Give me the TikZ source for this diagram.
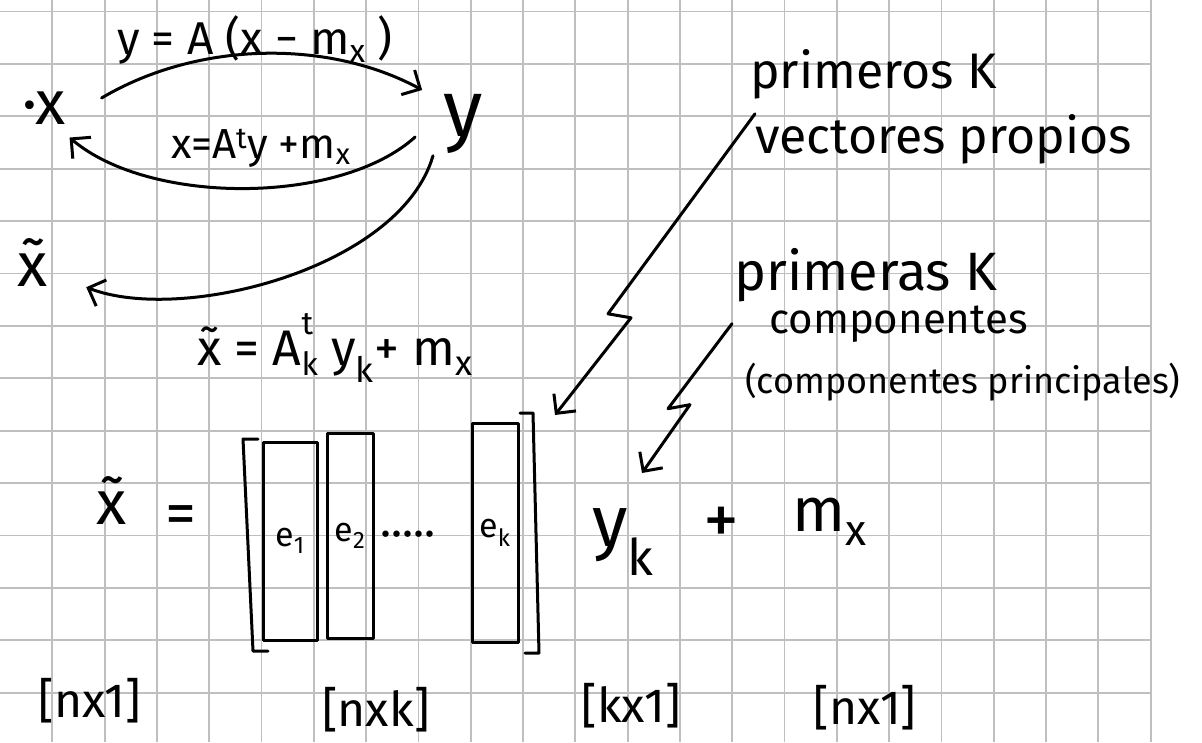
\documentclass[tikz,border=0pt]{standalone}
\usepackage{fontspec}
\setmainfont{Fira Sans}
\usetikzlibrary{arrows.meta}

\begin{document}
\begin{tikzpicture}[x=1pt, y=-1pt,
  ink/.style={line width=3pt, line cap=round, line join=round},
  tip/.style={ink, -{Straight Barb[length=14pt, width=28pt]}},
  gridline/.style={draw=black!25, line width=1.8pt},
  big/.style={inner sep=0pt, font=\fontsize{62}{70}\selectfont},
  form/.style={inner sep=0pt, font=\fontsize{46}{54}\selectfont},
  note/.style={inner sep=0pt, anchor=base west, font=\fontsize{50}{58}\selectfont},
  dims/.style={inner sep=0pt, font=\fontsize{48}{56}\selectfont},
  colbox/.style={draw, ink, inner sep=0pt, minimum width=46pt, minimum height=205pt, font=\fontsize{34}{40}\selectfont}
]
\fill[white] (0,0) rectangle (1202,742);
\useasboundingbox (0,0) rectangle (1202,742);
\foreach \i in {1,...,22} \draw[gridline] (52.3*\i,0) -- (52.3*\i,742);
\foreach \j in {0,...,13} \draw[gridline] (0,11.5+52.4*\j) -- (1152,11.5+52.4*\j);

\node[big] (x) at (44,108) {·x};
\node[big, font=\fontsize{80}{88}\selectfont] (y) at (463,124) {y};
\node[big] (xt) at (33,263) {\~{x}};

\node[form] (fwd) at (255,40) {y = A (x − m\textsubscript{x} )};
\node[form, font=\fontsize{42}{50}\selectfont] (inv) at (261,148) {x=A\textsuperscript{t}y +m\textsubscript{x}};
\node[form, font=\fontsize{50}{58}\selectfont] (rec) at (335,348) {\~{x} = A\rlap{\raisebox{0.62em}{\fontsize{32}{32}\selectfont t}}\raisebox{-0.2em}{\fontsize{32}{32}\selectfont k} y\textsubscript{k}+ m\textsubscript{x}};

\draw[tip] ([shift={(36,-10)}]x.east) .. controls +(98,-58) and +(-92,-50) .. ([shift={(-21,-34)}]y.west);
\draw[tip] ([shift={(-28,13)}]y.west) .. controls +(-75,68) and +(80,68) .. ([shift={(4,13)}]x.south east);
\draw[tip] ([shift={(-30,2)}]y.south) .. controls +(-33,113) and +(95,37) .. ([shift={(38,0)}]xt.south east);

\node[note] (n1a) at (750,88) {primeros K};
\node[note] (n1b) at (755,153) {vectores propios};
\node[note, font=\fontsize{54}{62}\selectfont] (n2a) at (734,290) {primeras K};
\node[note, font=\fontsize{42}{50}\selectfont] (n2b) at (769,333) {componentes};
\node[note, font=\fontsize{36}{44}\selectfont] (n2c) at (745,393) {(componentes principales)};

\node[big] (xt2) at (112,500) {\~{x}};
\node[big] (eq) at (181,520) {=};
\node[colbox, minimum width=54pt, minimum height=198pt] (e1) at (290,541) {e\textsubscript{1}};
\node[colbox] (e2) at (350,536) {e\textsubscript{2}};
\node[form] (dots) at (408,540) {·····};
\node[colbox, minimum height=219pt] (ek) at (495,533) {e\textsubscript{k}};
\draw[ink] (258,439) -- (243,439) -- (253,651) -- (268,651);
\draw[ink] (520,413) -- (533,413) -- (539,653) -- (525,653);
\node[big, font=\fontsize{72}{80}\selectfont] (yk) at (623,542) {y\textsubscript{k}};
\node[big, font=\fontsize{72}{80}\selectfont] (plus) at (721,526) {+};
\node[big] (mx) at (830,522) {m\textsubscript{x}};

\coordinate (rb) at (555,415);
\coordinate (ykt) at (642,473);
\draw[tip] (n1b.north west) -- ++(-147,200) -- ++(23,4) -- (rb);
\draw[tip] ([xshift=-37pt]n2b.west) -- ++(-64,85) -- ++(22,-4) -- (ykt);

\node[dims] (d1) at (90,701) {[nx1]};
\node[dims] (d2) at (376,710) {[nxk]};
\node[dims] (d3) at (631,706) {[kx1]};
\node[dims] (d4) at (865,708) {[nx1]};
\end{tikzpicture}
\end{document}
